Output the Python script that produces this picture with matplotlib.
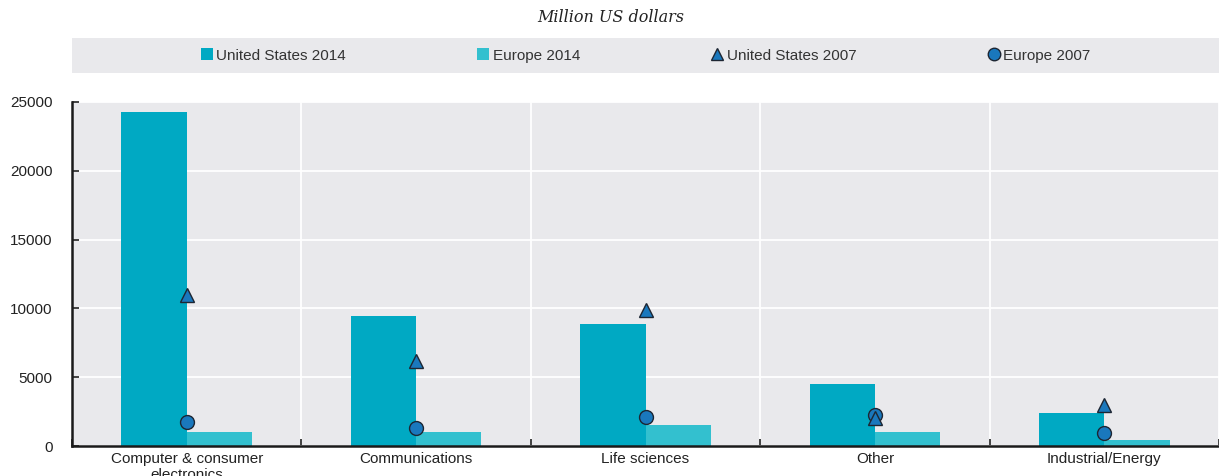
import matplotlib
matplotlib.use("Agg")
import matplotlib.pyplot as plt
import numpy as np
from matplotlib.lines import Line2D
from matplotlib.patches import Patch

categories = ["Computer & consumer\nelectronics", "Communications", "Life sciences", "Other", "Industrial/Energy"]
us_2014 = [24300, 9450, 8900, 4500, 2400]
europe_2014 = [1000, 1050, 1500, 1000, 400]
us_2007 = [11000, 6200, 9900, 2000, 3000]
europe_2007 = [1750, 1300, 2100, 2250, 950]
yticks = [0, 5000, 10000, 15000, 20000, 25000]

c_us14 = "#00a9c3"
c_eu14 = "#33c0cf"
c_mark = "#1a78bd"
c_edge = "#1d2633"
bg = "#e9e9ec"

plt.rcParams['font.family'] = ['Liberation Sans', 'DejaVu Sans']
FS = 11

fig = plt.figure(figsize=(12.19, 4.76), dpi=100)
ax = fig.add_axes([72/1219, 30/476, 1147/1219, 344/476])
ax.set_facecolor(bg)

x = np.arange(len(categories))
w = 0.285
ax.bar(x - w/2, us_2014, width=w, color=c_us14, zorder=2, label="United States 2014")
ax.bar(x + w/2, europe_2014, width=w, color=c_eu14, zorder=2, label="Europe 2014")
ax.plot(x, us_2007, linestyle="none", marker="^", ms=10, mfc=c_mark, mec=c_edge, mew=1.0, zorder=4)
ax.plot(x, europe_2007, linestyle="none", marker="o", ms=10, mfc=c_mark, mec=c_edge, mew=1.0, zorder=3)

ax.set_xlim(-0.5, len(categories) - 0.5)
ax.set_ylim(0, 25000)
ax.set_yticks(yticks)
ax.set_yticklabels([str(v) for v in yticks])

ax.set_xticks(np.arange(len(categories) + 1) - 0.5)
ax.set_xticklabels([])
ax.set_xticks(x, minor=True)
ax.set_xticklabels(categories, minor=True)
ax.tick_params(axis='x', which='minor', length=0, pad=4, labelsize=FS, labelcolor="#222222")
ax.tick_params(axis='x', which='major', direction='in', length=5, width=1.2, color="#222222")
ax.tick_params(axis='y', direction='in', length=5, width=1.2, pad=14, labelsize=FS, labelcolor="#222222", color="#222222")

ax.grid(True, axis='y', color='white', linewidth=1.3, zorder=1)
ax.grid(True, axis='x', which='major', color='white', linewidth=1.3, zorder=1)
ax.set_axisbelow(True)

for s in ["top", "right"]:
    ax.spines[s].set_visible(False)
for s in ["left", "bottom"]:
    ax.spines[s].set_linewidth(1.8)
    ax.spines[s].set_color("#1a1a1a")

# legend strip
lax = fig.add_axes([72/1219, (476-73)/476, 1147/1219, 35/476])
lax.set_facecolor(bg)
lax.set_xticks([]); lax.set_yticks([])
for s in lax.spines.values():
    s.set_visible(False)
handles = [
    Patch(facecolor=c_us14, edgecolor="none"),
    Patch(facecolor=c_eu14, edgecolor="none"),
    Line2D([], [], linestyle="none", marker="^", ms=9, mfc=c_mark, mec=c_edge, mew=1.0),
    Line2D([], [], linestyle="none", marker="o", ms=9, mfc=c_mark, mec=c_edge, mew=1.0),
]
labels = ["United States 2014", "Europe 2014", "United States 2007", "Europe 2007"]
leg = lax.legend(handles, labels, ncol=4, loc="center", frameon=False, fontsize=FS,
                 handlelength=0.8, handleheight=0.8, handletextpad=0.2, columnspacing=8.6,
                 labelcolor="#333333")

fig.text(611/1219, 1 - 17/476, "Million US dollars", ha="center", va="center",
         fontsize=11.5, style="italic", family=["DejaVu Serif"], color="#222222")

fig.savefig("out.png", dpi=100)
